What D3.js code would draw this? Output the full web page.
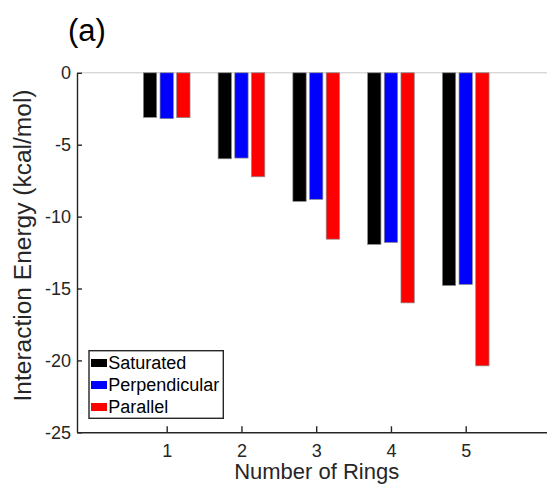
<!DOCTYPE html>
<html>
<head>
<meta charset="utf-8">
<script src="https://cdn.jsdelivr.net/npm/d3@7"></script>
<style>
  html, body { margin: 0; padding: 0; background: #fff; }
  svg { display: block; font-family: "Liberation Sans", Arial, Helvetica, sans-serif; }
</style>
</head>
<body>
<svg id="chart" width="547" height="487"></svg>
<script>
const categories = [1, 2, 3, 4, 5];
const seriesNames = ["Saturated", "Perpendicular", "Parallel"];
const seriesColors = ["#000000", "#0000ff", "#ff0000"];
const saturated = [-3.10, -5.98, -8.94, -11.93, -14.79];
const perpendicular = [-3.19, -5.93, -8.80, -11.80, -14.72];
const parallel = [-3.12, -7.23, -11.57, -16.00, -20.38];
const yTicks = [0, -5, -10, -15, -20, -25];
const titleText = "(a)";
const xLabel = "Number of Rings";
const yLabel = "Interaction Energy (kcal/mol)";

(function () {
const seriesValues = [saturated, perpendicular, parallel];
const axisColor = "#262626";

const svg = d3.select("#chart");
const pLeft = 77, pRight = 555.4, pTop = 72.8, pBottom = 432.3;

const x = d3.scaleLinear().domain([-0.2, 6.2]).range([pLeft, pRight]);
const y = d3.scaleLinear().domain([-25, 0]).range([pBottom, pTop]);

const groupHalf = (x(1.669) - x(1)) / 2;
const inner = d3.scaleBand().domain(seriesNames).range([-groupHalf, groupHalf])
  .paddingInner(0.2).paddingOuter(0.1);

// baseline at zero
svg.append("line")
  .attr("x1", pLeft).attr("x2", 547)
  .attr("y1", y(0)).attr("y2", y(0))
  .attr("stroke", "#c8c8c8").attr("stroke-width", 1);

// bars
seriesNames.forEach((name, si) => {
  svg.append("g").selectAll("rect")
    .data(categories.map((c, i) => ({ c, v: seriesValues[si][i] })))
    .join("rect")
    .attr("x", d => x(d.c) + inner(name))
    .attr("width", inner.bandwidth())
    .attr("y", y(0))
    .attr("height", d => y(d.v) - y(0))
    .attr("fill", seriesColors[si])
    .attr("stroke", "#8a8a8a")
    .attr("stroke-width", 0.7);
});

// y axis
const yAxis = d3.axisLeft(y).tickValues(yTicks).tickFormat(d => String(d))
  .tickSizeInner(-5).tickSizeOuter(0).tickPadding(6);
const gy = svg.append("g").attr("transform", `translate(${pLeft},0)`).call(yAxis);
gy.select(".domain").attr("stroke", axisColor).attr("stroke-width", 1.4);
gy.selectAll(".tick line").attr("stroke", axisColor).attr("stroke-width", 1.4);
gy.selectAll(".tick text").attr("fill", axisColor)
  .style("font-size", "18px").style("font-family", "'Liberation Sans', Arial, sans-serif");

// x axis
const xAxis = d3.axisBottom(x).tickValues(categories).tickFormat(d => String(d))
  .tickSizeInner(-6).tickSizeOuter(0).tickPadding(12);
const gx = svg.append("g").attr("transform", `translate(0,${pBottom})`).call(xAxis);
gx.select(".domain").attr("stroke", axisColor).attr("stroke-width", 1.4);
gx.selectAll(".tick line").attr("stroke", axisColor).attr("stroke-width", 1.4);
gx.selectAll(".tick text").attr("fill", axisColor)
  .style("font-size", "18px").style("font-family", "'Liberation Sans', Arial, sans-serif");

// axis labels
svg.append("text")
  .attr("x", (x(1) + x(5)) / 2 + 0.5).attr("y", 479.3)
  .attr("text-anchor", "middle").attr("fill", axisColor)
  .style("font-size", "22px").text(xLabel);

svg.append("text")
  .attr("transform", `translate(30.5,245.5) rotate(-90)`)
  .attr("text-anchor", "middle").attr("fill", axisColor)
  .attr("textLength", 312).attr("lengthAdjust", "spacingAndGlyphs")
  .style("font-size", "23px").text(yLabel);

// title
svg.append("text")
  .attr("x", 68).attr("y", 40.5)
  .attr("fill", "#000").style("font-size", "31px").text(titleText);

// legend
const lg = svg.append("g");
lg.append("rect")
  .attr("x", 89).attr("y", 350.7).attr("width", 134.3).attr("height", 67.6)
  .attr("fill", "#fff").attr("stroke", axisColor).attr("stroke-width", 1.4);
seriesNames.forEach((name, i) => {
  const cy = 363 + i * 22;
  lg.append("rect")
    .attr("x", 91).attr("y", cy - 4).attr("width", 16).attr("height", 8)
    .attr("fill", seriesColors[i]);
  lg.append("text")
    .attr("x", 108.3).attr("y", cy + 6.3)
    .attr("fill", "#000").style("font-size", "18px").text(name);
});
})();
</script>
</body>
</html>
